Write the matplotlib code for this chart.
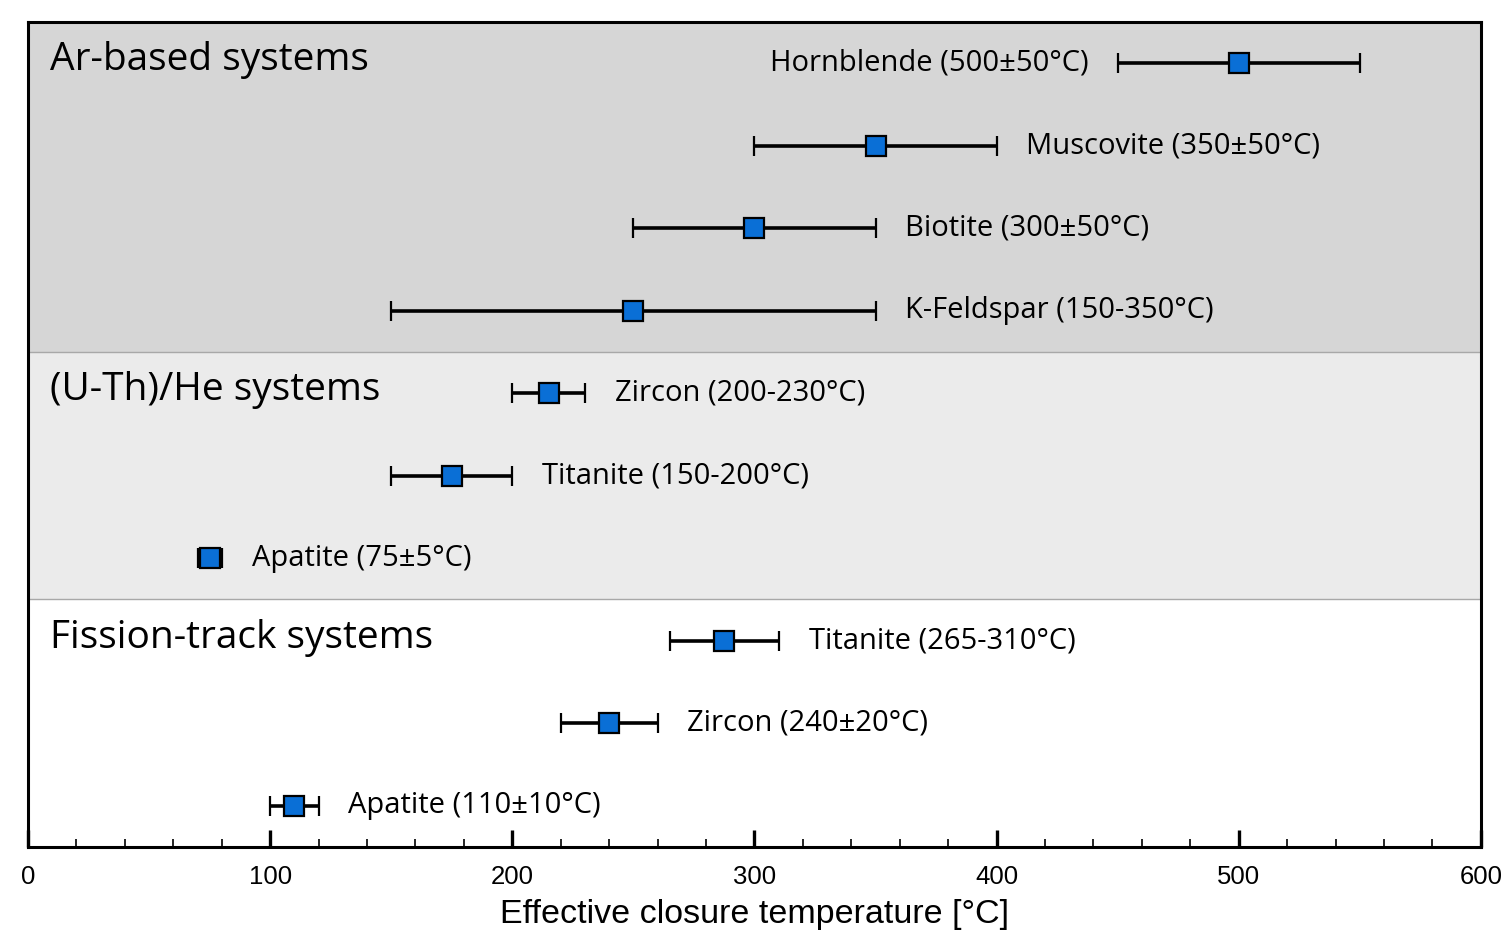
import matplotlib
matplotlib.use('Agg')
import matplotlib.pyplot as plt
from matplotlib.ticker import MultipleLocator

# closure temperature systems, top to bottom
names = ['Hornblende (500±50°C)', 'Muscovite (350±50°C)', 'Biotite (300±50°C)',
         'K-Feldspar (150-350°C)', 'Zircon (200-230°C)', 'Titanite (150-200°C)',
         'Apatite (75±5°C)', 'Titanite (265-310°C)', 'Zircon (240±20°C)',
         'Apatite (110±10°C)']
centers = [500, 350, 300, 250, 215, 175, 75, 287.5, 240, 110]
lows = [450, 300, 250, 150, 200, 150, 70, 265, 220, 100]
highs = [550, 400, 350, 350, 230, 200, 80, 310, 260, 120]
label_left = [True, False, False, False, False, False, False, False, False, False]

groups = ['Ar-based systems', '(U-Th)/He systems', 'Fission-track systems']
group_rows = [(0, 4), (4, 7), (7, 10)]
group_colors = ['#d6d6d6', '#ebebeb', '#ffffff']

label_font = 'Open Sans'

fig = plt.figure(figsize=(15.07, 9.36), dpi=100)
ax = fig.add_axes([0.0186, 0.0951, 0.9641, 0.8814])

n = len(names)
ax.set_xlim(0, 600)
ax.set_ylim(0, n)

# shaded background per group
for (start, stop), col in zip(group_rows, group_colors):
    ax.axhspan(n - stop, n - start, color=col, zorder=0, lw=0)
for start, stop in group_rows[1:]:
    ax.axhline(n - start, color='#a8a8a8', lw=1.0, zorder=1)

for i in range(n):
    y = n - i - 0.5
    c = centers[i]
    ax.errorbar(c, y, xerr=[[c - lows[i]], [highs[i] - c]], fmt='s',
                color='black', ecolor='black', elinewidth=2.6, capsize=7.5,
                capthick=2.6, markersize=14.5, markerfacecolor='#0a6fd6',
                markeredgecolor='black', markeredgewidth=1.6, zorder=3)
    if label_left[i]:
        ax.annotate(names[i], xy=(lows[i], y), xytext=(-21, 0),
                    textcoords='offset points', ha='right', va='center',
                    fontsize=21, family=label_font)
    else:
        ax.annotate(names[i], xy=(highs[i], y), xytext=(21.5, 0),
                    textcoords='offset points', ha='left', va='center',
                    fontsize=21, family=label_font)

for (start, stop), g in zip(group_rows, groups):
    ax.annotate(g, xy=(0, n - start - 0.5), xytext=(15.5, 2),
                textcoords='offset points', ha='left', va='center',
                fontsize=28, family=label_font)

ax.xaxis.set_major_locator(MultipleLocator(100))
ax.xaxis.set_minor_locator(MultipleLocator(20))
ax.tick_params(axis='x', which='major', direction='in', length=12, width=2.4,
               labelsize=18.5, pad=13)
ax.tick_params(axis='x', which='minor', direction='in', length=5.5, width=1.2)
ax.set_yticks([])
for lbl in ax.get_xticklabels():
    lbl.set_family('Liberation Sans')
for s in ax.spines.values():
    s.set_linewidth(2.2)

ax.set_xlabel('Effective closure temperature [°C]', fontsize=24.5,
              family='Liberation Sans', labelpad=7)

fig.savefig('out.png', dpi=100)
